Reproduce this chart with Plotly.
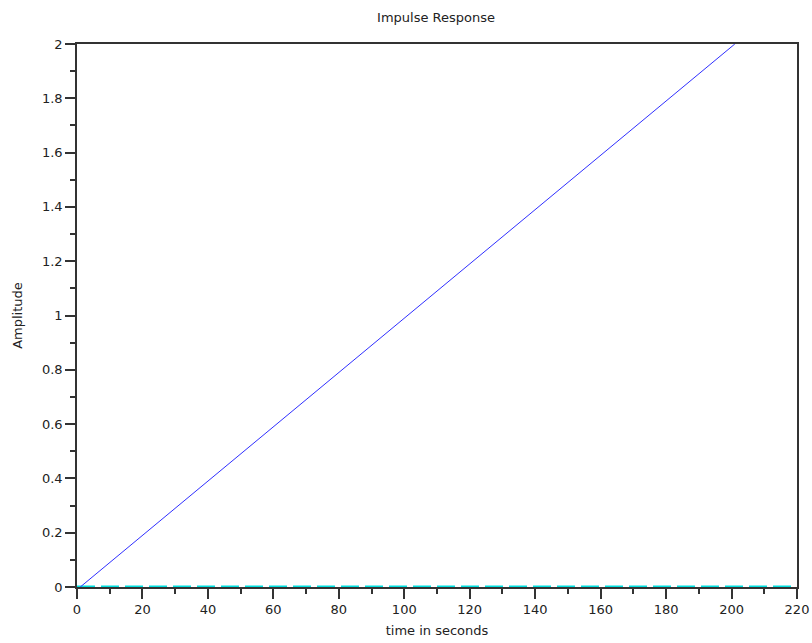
import plotly.graph_objects as go

# Data
ramp_t = [1, 201]
ramp_amp = [0, 2]
zero_t = [0, 220]
zero_amp = [0, 0]

x_ticks = list(range(0, 221, 20))
y_ticks = [0, 0.2, 0.4, 0.6, 0.8, 1, 1.2, 1.4, 1.6, 1.8, 2]
y_tick_text = ["0", "0.2", "0.4", "0.6", "0.8", "1", "1.2", "1.4", "1.6", "1.8", "2"]

FONT = "DejaVu Sans"
TXT = "#222222"

fig = go.Figure()
fig.add_trace(go.Scatter(x=zero_t, y=zero_amp, mode="lines",
                         line=dict(color="#00e0e0", width=3, dash="18px,6px"),
                         showlegend=False))
fig.add_trace(go.Scatter(x=ramp_t, y=ramp_amp, mode="lines",
                         line=dict(color="#2f2fff", width=1),
                         showlegend=False))

axis_common = dict(showgrid=False, zeroline=False, showline=True, mirror=True,
                   automargin=False,
                   linecolor="#333333", linewidth=1.5, ticks="outside", ticklen=10,
                   tickwidth=1.5, tickcolor="#333333",
                   tickfont=dict(family=FONT, size=13, color=TXT))

fig.update_xaxes(range=[0, 220], tickvals=x_ticks, ticktext=[str(v) for v in x_ticks],
                 minor=dict(dtick=10, tick0=0, ticks="outside", ticklen=5,
                            tickwidth=1.5, tickcolor="#333333"),
                 title=dict(text="time in seconds", font=dict(family=FONT, size=13, color=TXT), standoff=10),
                 **axis_common)
fig.update_yaxes(range=[0, 2], tickvals=y_ticks, ticktext=y_tick_text,
                 minor=dict(dtick=0.1, tick0=0, ticks="outside", ticklen=5,
                            tickwidth=1.5, tickcolor="#333333"),
                 title=dict(text="Amplitude", font=dict(family=FONT, size=13, color=TXT), standoff=16),
                 **axis_common)

fig.update_layout(
    width=812, height=643,
    margin=dict(l=77, r=15, t=44, b=56),
    plot_bgcolor="white", paper_bgcolor="white",
    title=dict(text="Impulse Response", x=0.537, xanchor="center", y=0.980, yanchor="top",
               font=dict(family=FONT, size=13, color=TXT)),
)

fig.write_html("out.html", config={"displayModeBar": False},
               post_script="document.body.style.margin='0';document.body.style.overflow='hidden';")
